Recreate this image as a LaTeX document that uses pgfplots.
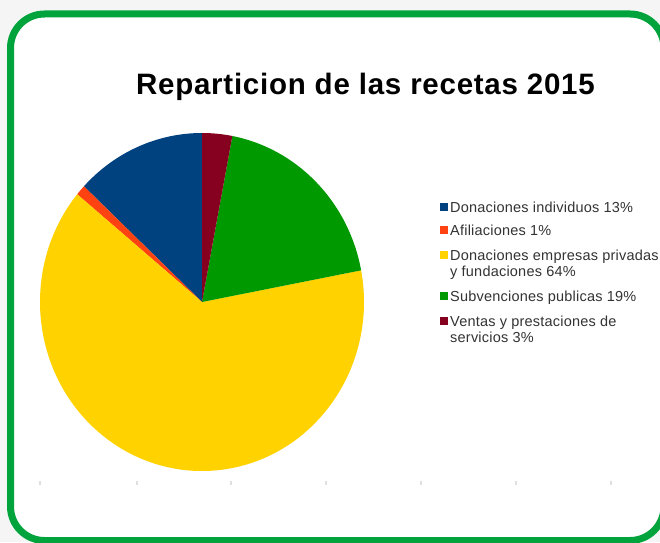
\documentclass[border=0pt]{standalone}
\usepackage{pgfplots}
\pgfplotsset{compat=1.18}
\usepackage{pgfplotstable}
\usepackage{fontspec}
\setmainfont{Liberation Sans}
\definecolor{pblue}{HTML}{00427F}
\definecolor{pred}{HTML}{FF4212}
\definecolor{pyellow}{HTML}{FFD200}
\definecolor{pgreen}{HTML}{009A00}
\definecolor{pmaroon}{HTML}{86001F}
\definecolor{frame}{HTML}{00A33C}
\definecolor{legtext}{HTML}{333333}
% shares in percent
\pgfplotstableread{
share
13
1
64
19
3
}\shares
\pgfplotstablegetelem{0}{share}\of\shares \let\va\pgfplotsretval
\pgfplotstablegetelem{1}{share}\of\shares \let\vb\pgfplotsretval
\pgfplotstablegetelem{2}{share}\of\shares \let\vc\pgfplotsretval
\pgfplotstablegetelem{3}{share}\of\shares \let\vd\pgfplotsretval
\pgfplotstablegetelem{4}{share}\of\shares \let\ve\pgfplotsretval
\pgfmathsetmacro\aA{90}
\pgfmathsetmacro\aB{\aA+3.6*\va}
\pgfmathsetmacro\aC{\aB+3.6*\vb}
\pgfmathsetmacro\aD{\aC+3.6*\vc}
\pgfmathsetmacro\aE{\aD+3.6*\vd}
\pgfmathsetmacro\aF{\aE+3.6*\ve}
\begin{document}
\begin{tikzpicture}
\begin{axis}[width=660pt,height=542pt,scale only axis,
  xmin=0,xmax=660,ymin=0,ymax=542,hide axis,clip=true]
% background
\fill[black!4] (axis cs:0,0) rectangle (axis cs:660,542);
\draw[frame,line width=7pt,fill=white,rounded corners=34pt]
  (axis cs:10.5,1.5) rectangle (axis cs:664,528);
% faint ticks
\foreach \x in {40,137,231,326,421,516,611}{
  \edef\tmp{\noexpand\draw[black!12,line width=1.2pt] (axis cs:\x,57) -- (axis cs:\x,61);}\tmp}
% pie
\def\cx{202}\def\cy{240}
\fill[pblue]   (axis cs:\cx,\cy) -- ++(\aA:162pt and 169pt) arc[start angle=\aA,end angle=\aB,x radius=162pt,y radius=169pt] -- cycle;
\fill[pred]    (axis cs:\cx,\cy) -- ++(\aB:162pt and 169pt) arc[start angle=\aB,end angle=\aC,x radius=162pt,y radius=169pt] -- cycle;
\fill[pyellow] (axis cs:\cx,\cy) -- ++(\aC:162pt and 169pt) arc[start angle=\aC,end angle=\aD,x radius=162pt,y radius=169pt] -- cycle;
\fill[pgreen]  (axis cs:\cx,\cy) -- ++(\aD:162pt and 169pt) arc[start angle=\aD,end angle=\aE,x radius=162pt,y radius=169pt] -- cycle;
\fill[pmaroon] (axis cs:\cx,\cy) -- ++(\aE:162pt and 169pt) arc[start angle=\aE,end angle=\aF,x radius=162pt,y radius=169pt] -- cycle;
% title
\node[font=\bfseries\fontsize{29.5}{34}\selectfont\addfontfeature{LetterSpace=2.5},anchor=base] at (axis cs:365.5,447) {Reparticion de las recetas 2015};
% legend
\tikzset{leg/.style={font=\fontsize{14.5}{17}\selectfont\addfontfeature{LetterSpace=1.5},text=legtext,anchor=base west,inner sep=0pt}}
\fill[pblue]   (axis cs:440,331) rectangle (axis cs:448,339);
\node[leg] at (axis cs:450,330) {Donaciones individuos 13\%};
\fill[pred]    (axis cs:440,308) rectangle (axis cs:448,316);
\node[leg] at (axis cs:450,307) {Afiliaciones 1\%};
\fill[pyellow] (axis cs:440,283) rectangle (axis cs:448,291);
\node[leg] at (axis cs:450,282) {Donaciones empresas privadas};
\node[leg] at (axis cs:450,266) {y fundaciones 64\%};
\fill[pgreen]  (axis cs:440,242) rectangle (axis cs:448,250);
\node[leg] at (axis cs:450,241) {Subvenciones publicas 19\%};
\fill[pmaroon] (axis cs:440,217) rectangle (axis cs:448,225);
\node[leg] at (axis cs:450,216) {Ventas y prestaciones de};
\node[leg] at (axis cs:450,200) {servicios 3\%};
\end{axis}
\pgfresetboundingbox
\path[use as bounding box] (0,0) rectangle (660pt,542pt);
\end{tikzpicture}
\end{document}
